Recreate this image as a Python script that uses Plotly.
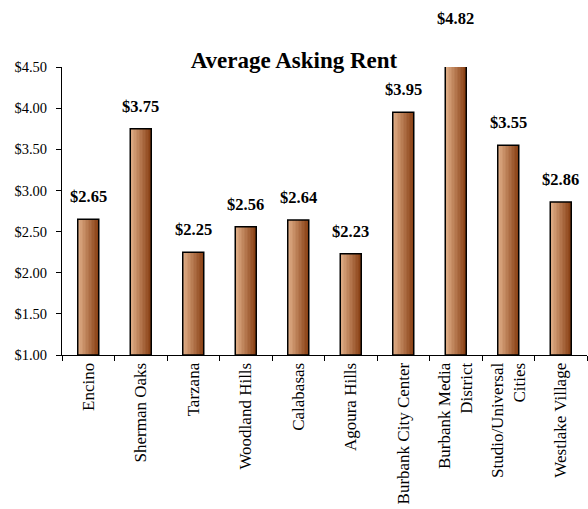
import plotly.graph_objects as go

categories = ["Encino", "Sherman Oaks", "Tarzana", "Woodland Hills", "Calabasas",
              "Agoura Hills", "Burbank City Center", "Burbank Media<br>District",
              "Studio/Universal<br>Cities", "Westlake Village"]
rents = [2.65, 3.75, 2.25, 2.56, 2.64, 2.23, 3.95, 4.82, 3.55, 2.86]
value_labels = ["$2.65", "$3.75", "$2.25", "$2.56", "$2.64", "$2.23", "$3.95", "$4.82", "$3.55", "$2.86"]
y_tickvals = [1.0, 1.5, 2.0, 2.5, 3.0, 3.5, 4.0, 4.5]
y_ticktext = ["$1.00", "$1.50", "$2.00", "$2.50", "$3.00", "$3.50", "$4.00", "$4.50"]
y_range = [1.0, 4.5]

FONT = "Liberation Serif, Times New Roman, serif"
BAR_W = 0.4
N_STRIPS = 14
light = (226, 176, 138)
dark = (138, 66, 22)

fig = go.Figure()
strip_w = BAR_W / N_STRIPS
for i in range(N_STRIPS):
    t = i / (N_STRIPS - 1)
    c = tuple(round(light[k] + (dark[k] - light[k]) * t) for k in range(3))
    fig.add_trace(go.Bar(
        x=categories, y=[r - y_range[0] for r in rents], base=y_range[0],
        width=strip_w * 1.05, offset=-BAR_W / 2 + i * strip_w,
        marker=dict(color="rgb(%d,%d,%d)" % c, line=dict(width=0)),
        hoverinfo="skip", showlegend=False,
    ))
# outline
fig.add_trace(go.Bar(
    x=categories, y=[r - y_range[0] for r in rents], base=y_range[0],
    width=BAR_W, offset=-BAR_W / 2,
    marker=dict(color="rgba(0,0,0,0)", line=dict(color="black", width=1.5)),
    showlegend=False,
))

# value labels: placed by value in the axis' fractional scale, so the one above the range still shows
span = y_range[1] - y_range[0]
for cat, v, lab in zip(categories, rents, value_labels):
    fig.add_annotation(x=cat, xref="x", y=(v - y_range[0]) / span, yref="paper",
                       text="<b>%s</b>" % lab, showarrow=False,
                       yanchor="bottom", yshift=11,
                       font=dict(family=FONT, size=16.5, color="black"))

fig.update_layout(
    width=588, height=509,
    margin=dict(l=62, r=1, t=67, b=154),
    barmode="overlay",
    plot_bgcolor="white", paper_bgcolor="white",
    title=dict(text="<b>Average Asking Rent</b>", x=294 / 588, xanchor="center",
               y=1 - 60 / 509, yanchor="middle",
               font=dict(family=FONT, size=23, color="black")),
    font=dict(family=FONT, color="black"),
)
fig.update_xaxes(
    type="category", tickangle=-90, tickfont=dict(family=FONT, size=17, color="black"),
    showline=True, linecolor="black", linewidth=1,
    ticks="outside", ticklen=5, tickcolor="black", showgrid=False,
    tickson="boundaries", automargin=False,
)
fig.update_yaxes(
    range=y_range, tickvals=y_tickvals, ticktext=y_ticktext,
    tickfont=dict(family=FONT, size=14.5, color="black"),
    showline=True, linecolor="black", linewidth=1,
    ticks="outside", ticklen=5, tickcolor="black", showgrid=False, zeroline=False,
    automargin=False, ticklabelstandoff=6,
)

fig.write_html("out.html", config={"displayModeBar": False},
               post_script="document.body.style.margin='0';")
